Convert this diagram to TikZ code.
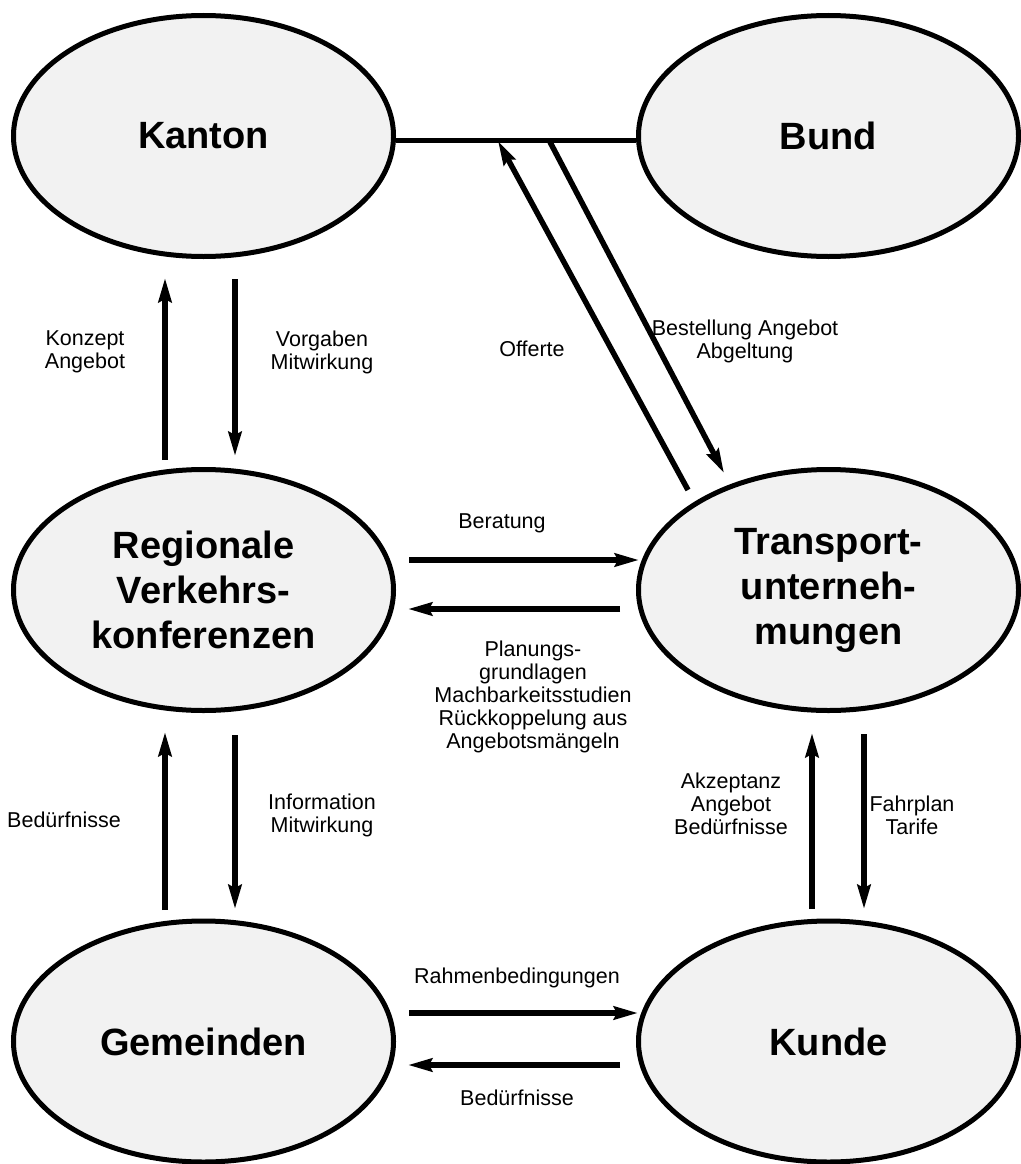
\documentclass[tikz,border=0pt]{standalone}
\usepackage{fontspec}
\setmainfont{Liberation Sans}
\usetikzlibrary{shapes.geometric,arrows.meta}
\definecolor{ellfill}{HTML}{F2F2F2}
\tikzset{
  ell/.style={ellipse, draw=black, line width=5pt, fill=ellfill,
    minimum width=380pt, minimum height=241pt, inner sep=0pt, align=center,
    font=\fontsize{38}{45}\selectfont\bfseries},
  arr/.style={line width=5.5pt, -{Stealth[length=24pt,width=13pt,inset=3pt]}},
  lbl/.style={align=center, font=\fontsize{21.5}{23}\selectfont, inner sep=0pt},
  link/.style={line width=5pt}
}
\begin{document}
\begin{tikzpicture}[x=1pt,y=-1pt]
\useasboundingbox (0,0) rectangle (1020,1164);
\node[ell] (kanton) at (203.5,136) {Kanton};
\node[ell] (bund) at (828.5,136) {Bund};
\node[ell] (reg) at (203.5,590) {Regionale\\Verkehrs-\\konferenzen};
\node[ell] (tu) at (828.5,590) {Transport-\\unterneh-\\mungen};
\node[ell] (gem) at (203.5,1041.5) {Gemeinden};
\node[ell] (kunde) at (828.5,1041.5) {Kunde};

% arrow end points
\coordinate (a1s) at (165,460); \coordinate (a1e) at (165,278);
\coordinate (a2s) at (235,279); \coordinate (a2e) at (235,456);
\coordinate (a3s) at (688,490); \coordinate (a3e) at (498,141);
\coordinate (a4s) at (550,142); \coordinate (a4e) at (724,473);
\coordinate (a5s) at (409,560); \coordinate (a5e) at (639,560);
\coordinate (a6s) at (620,609); \coordinate (a6e) at (408,609);
\coordinate (a7s) at (165,910); \coordinate (a7e) at (165,732);
\coordinate (a8s) at (235,735); \coordinate (a8e) at (235,909);
\coordinate (a9s) at (812,909); \coordinate (a9e) at (812,733);
\coordinate (a10s) at (864,734); \coordinate (a10e) at (864,909);
\coordinate (a11s) at (409,1013); \coordinate (a11e) at (638,1013);
\coordinate (a12s) at (620,1065); \coordinate (a12e) at (408,1065);

\draw[link] ([yshift=-4pt]kanton.east) -- ([yshift=-4pt]bund.west);
\draw[arr] (a1s) -- (a1e);
\draw[arr] (a2s) -- (a2e);
\draw[arr] (a3s) -- (a3e);
\draw[arr] (a4s) -- (a4e);
\draw[arr] (a5s) -- (a5e);
\draw[arr] (a6s) -- (a6e);
\draw[arr] (a7s) -- (a7e);
\draw[arr] (a8s) -- (a8e);
\draw[arr] (a9s) -- (a9e);
\draw[arr] (a10s) -- (a10e);
\draw[arr] (a11s) -- (a11e);
\draw[arr] (a12s) -- (a12e);

\node[lbl] (l1) at (85,352) {Konzept\\Angebot};
\node[lbl] (l2) at (322,352) {Vorgaben\\Mitwirkung};
\node[lbl] (l3) at (532,349) {Offerte};
\node[lbl] (l4) at (745,341) {Bestellung Angebot\\Abgeltung};
\node[lbl] (l5) at (502,523) {Beratung};
\node[lbl] (l6) at (533,697) {Planungs-\\grundlagen\\Machbarkeitsstudien\\Rückkoppelung aus\\Angebotsmängeln};
\node[lbl] (l7) at (64,820) {Bedürfnisse};
\node[lbl] (l8) at (322,815) {Information\\Mitwirkung};
\node[lbl] (l9) at (731,804) {Akzeptanz\\Angebot\\Bedürfnisse};
\node[lbl] (l10) at (912,815) {Fahrplan\\Tarife};
\node[lbl] (l11) at (517,978) {Rahmenbedingungen};
\node[lbl] (l12) at (517,1098) {Bedürfnisse};
\end{tikzpicture}
\end{document}
